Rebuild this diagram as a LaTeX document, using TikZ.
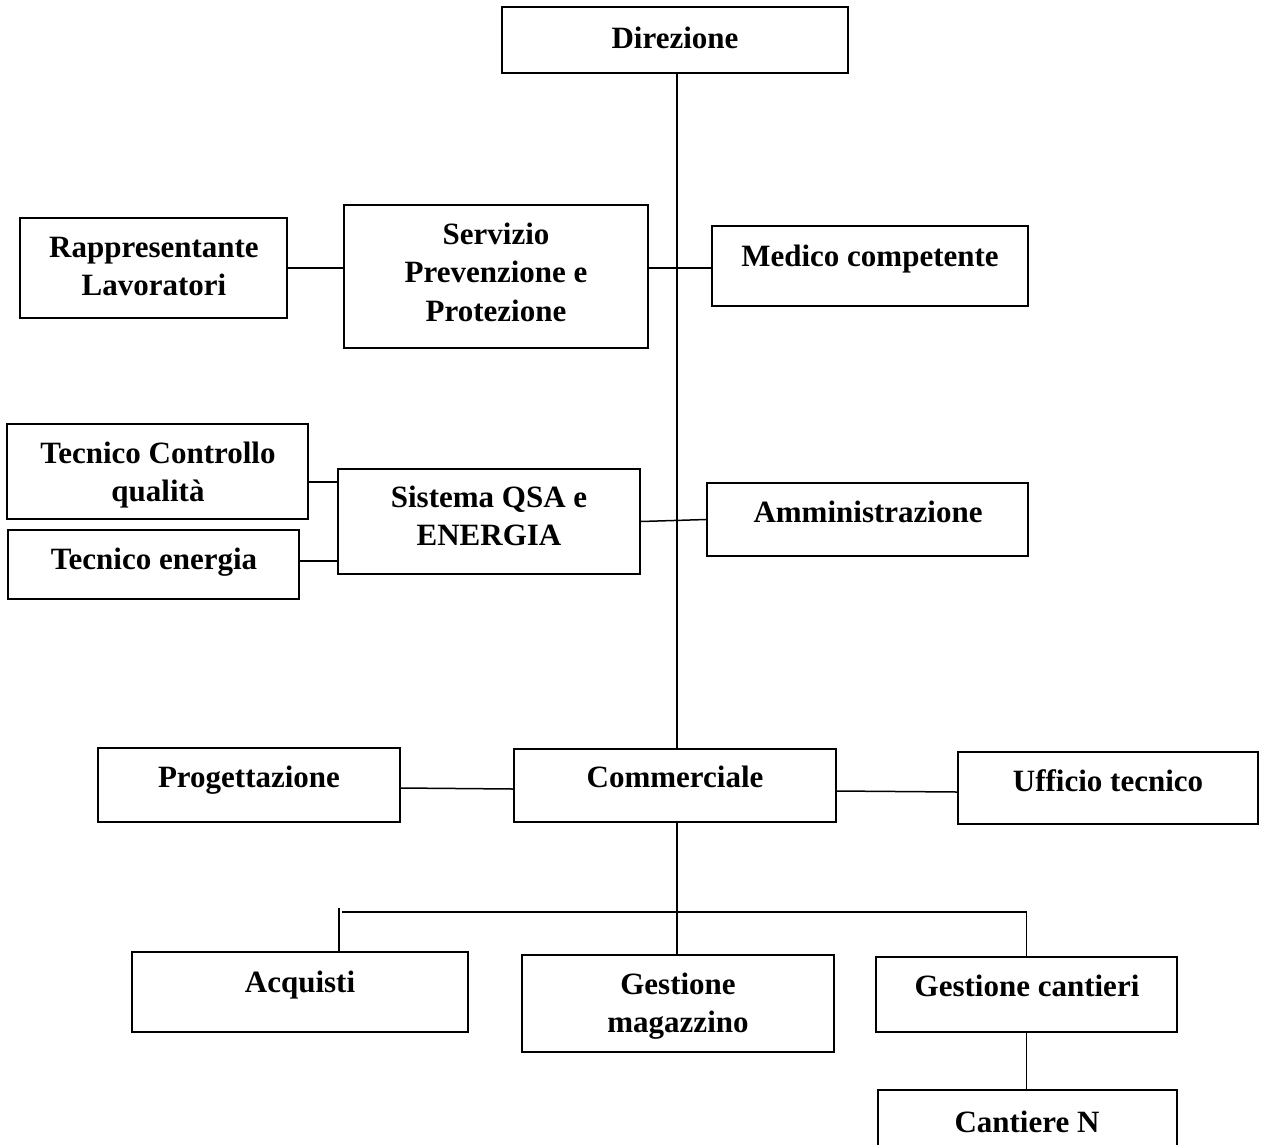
\documentclass[tikz,border=0pt]{standalone}
\usepackage{fontspec}
\setmainfont{Liberation Serif}
\begin{document}
\begin{tikzpicture}[x=1pt,y=-1pt,
  bx/.style={draw=black,line width=1.7pt,rectangle,inner sep=0pt},
  txt/.style={font=\fontsize{31}{38.5}\selectfont\bfseries,align=center,inner sep=0pt,anchor=north},
  conn/.style={draw=black,line width=1.5pt},
  barline/.style={draw=black,line width=2.4pt}]
\useasboundingbox (0,0) rectangle (1263,1144);
\clip (0,0) rectangle (1263,1144);
\fill[white] (0,0) rectangle (1263,1144);
\newcommand\bxn[6]{\node[bx,minimum width=#4pt,minimum height=#5pt] (#1) at (#2,#3) {};}
\newcommand\lbl[4]{\node[txt] (#1) at (#2,{#3-26.95}) {\strut #4};}
% boxes
\bxn{dir}{675}{40}{346}{66}{}
\bxn{rapp}{153.5}{268}{267}{100}{}
\bxn{spp}{496}{276.5}{304}{143}{}
\bxn{med}{870}{266}{316}{80}{}
\bxn{tcq}{157.5}{471.5}{301}{95}{}
\bxn{ten}{153.5}{564.5}{291}{69}{}
\bxn{qsa}{489}{521.5}{302}{105}{}
\bxn{amm}{867.5}{519.5}{321}{73}{}
\bxn{prog}{249}{785}{302}{74}{}
\bxn{com}{675}{785.5}{322}{73}{}
\bxn{uff}{1108}{788}{300}{72}{}
\bxn{acq}{300}{992}{336}{80}{}
\bxn{mag}{678}{1003.5}{312}{97}{}
\bxn{gc}{1026.5}{994.5}{301}{75}{}
\bxn{cn}{1027.5}{1120}{299}{60}{}
% labels
\lbl{dirT}{675}{48}{Direzione}
\lbl{rappT}{154}{257}{Rappresentante\\Lavoratori}
\lbl{sppT}{496}{244}{Servizio\\Prevenzione e\\Protezione}
\lbl{medT}{870}{266}{Medico competente}
\lbl{tcqT}{158}{463}{Tecnico Controllo\\qualità}
\lbl{qsaT}{489}{507}{Sistema QSA e\\ENERGIA}
\lbl{tenT}{154}{569}{Tecnico energia}
\lbl{ammT}{868}{522}{Amministrazione}
\lbl{progT}{249}{787}{Progettazione}
\lbl{comT}{675}{787}{Commerciale}
\lbl{uffT}{1108}{791}{Ufficio tecnico}
\lbl{acqT}{300}{992}{Acquisti}
\lbl{magT}{678}{994}{Gestione\\magazzino}
\lbl{gcT}{1027}{996}{Gestione cantieri}
\lbl{cnT}{1027}{1132}{Cantiere N}
% connectors
\coordinate (t) at (677,0);
\draw[conn] (dir.south -| t) -- (com.north -| t);
\draw[conn] (rapp.east) -- (spp.west |- rapp.east);
\coordinate (m1) at (0,268);
\draw[conn] (spp.east |- m1) -- (med.west |- m1);
\draw[conn] (qsa.east) -- (amm.west);
\path ([yshift=-10.5pt]tcq.east) coordinate (a1);
\draw[conn] (a1) -- (a1 -| qsa.west);
\path ([yshift=3.5pt]ten.east) coordinate (a2);
\draw[conn] (a2) -- (a2 -| qsa.west);
\draw[conn] ([yshift=-3pt]prog.east) -- ([yshift=-3.5pt]com.west);
\draw[conn] ([yshift=-5.5pt]com.east) -- ([yshift=-4pt]uff.west);
\draw[conn] (com.south -| t) -- (mag.north -| t);
\coordinate (bl) at (339,912);
\draw[conn] (acq.north -| bl) -- ([yshift=4pt]bl);
\draw[barline] ([xshift=3pt]bl) -- (bl -| gc.north);
\draw[conn] (bl -| gc.north) -- (gc.north);
\draw[conn] (gc.south) -- (gc.south |- cn.north);
\end{tikzpicture}
\end{document}
